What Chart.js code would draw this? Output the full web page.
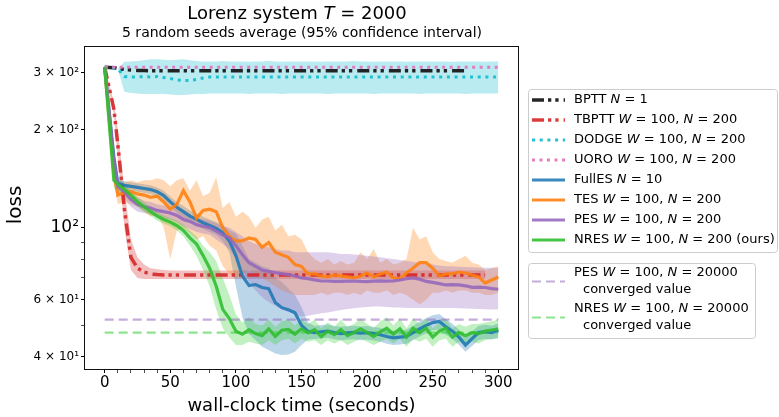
<!DOCTYPE html>
<html>
<head>
<meta charset="utf-8">
<script src="https://cdn.jsdelivr.net/npm/chart.js@4.4.1/dist/chart.umd.min.js"></script>
<style>
  html, body { margin: 0; padding: 0; background: #fff; }
</style>
</head>
<body>
<canvas id="lossChart" width="779" height="417"></canvas>
<script>
const FONT = '"DejaVu Sans", sans-serif';

// wall-clock time (seconds) for every sample
const timeSec = [0,7,10,15,20,25,30,35,40,45,
  50,55,60,65,70,75,80,85,90,95,
  100,105,110,115,120,125,130,135,140,145,
  150,155,160,165,170,175,180,185,190,195,
  200,205,210,215,220,225,230,235,240,245,
  250,255,260,265,270,275,280,285,290,295,
  300];

const bpttLoss = [312,311,309,307,306,305,304.5,304,304,304,
  304,304,304,304,304,304,304,304,304,304,
  304,304,304,304,304,304,304,304,304,304,
  304,304,304,304,304,304,304,304,304,304,
  304,304,304,304,304,304,304,304,304,304,
  304,304,304,304,304,304,null,null,null,null,
  null];

const tbpttLoss = [312,232,180,114,81,75,73,72,71.7,71.5,
  71.5,71.5,71.5,71.5,71.5,71.5,71.5,71.5,71.5,71.5,
  71.5,71.5,71.5,71.5,71.5,71.5,71.5,71.5,71.5,71.5,
  71.5,71.5,71.5,71.5,71.5,71.5,71.5,71.5,71.5,71.5,
  71.5,71.5,71.5,71.5,71.5,71.5,71.5,71.5,71.5,71.5,
  71.5,71.5,71.5,71.5,71.5,71.5,71.5,71.5,71.5,null,
  null];
const tbpttLo = [312,222,165,100,74,70,69.5,69.5,69.5,69.5,
  69.5,69.5,69.5,69.5,69.5,69.5,69.5,69.5,69.5,69.5,
  69.5,69.5,69.5,69.5,69.5,69.5,69.5,69.5,69.5,69.5,
  69.5,69.5,69.5,69.5,69.5,69.5,69.5,69.5,69.5,69.5,
  69.5,69.5,69.5,69.5,69.5,69.5,69.5,69.5,69.5,69.5,
  69.5,69.5,69.5,69.5,69.5,69.5,69.5,69.5,69.5,null,
  null];
const tbpttHi = [312,244,200,132,92,81,77,75,74.5,74,
  73.8,73.8,73.8,73.8,73.8,73.8,73.8,73.8,73.8,73.8,
  73.8,73.8,73.8,73.8,73.8,73.8,73.8,73.8,73.8,73.8,
  73.8,73.8,73.8,73.8,73.8,73.8,73.8,73.8,73.8,73.8,
  73.8,73.8,73.8,73.8,73.8,73.8,73.8,73.8,73.8,73.8,
  73.8,73.8,73.8,73.8,73.8,73.8,73.8,73.8,73.8,null,
  null];

const dodgeLoss = [312,310,308,292,291,291,292,291,292,290,
  288,285,284,284,286,289,291,291,291,291,
  291,291,291,291,291,291,291,291,291,291,
  291,291,291,291,291,291,291,291,291,291,
  291,291,291,291,291,291,291,291,291,291,
  291,291,291,291,291,291,291,291,291,291,
  291];
const dodgeLo = [312,310,308,262,260,259,258,258,258,258,
  257,256,256,257,258,258,259,259,259,259,
  259,259,258,259,259,259,259,258,259,259,
  259,259,259,259,258,259,259,259,259,259,
  259,258,259,259,259,259,259,259,258,259,
  259,259,259,259,259,258,259,259,259,259,
  259];
const dodgeHi = [312,310,308,324,325,326,328,330,330,329,
  328,329,330,328,326,325,325,325,326,325,
  325,325,324,325,325,326,325,324,325,325,
  325,325,325,324,325,325,325,325,326,325,
  325,324,325,325,325,325,324,325,325,325,
  325,325,325,324,325,325,325,325,324,325,
  325];

const uoroLoss = [312,312,312,312,312,312,312,312,312,312,
  312,312,312,312,312,312,312,312,312,312,
  312,312,312,312,312,312,312,312,312,312,
  312,312,312,312,312,312,312,312,312,312,
  312,312,312,312,312,312,312,312,312,312,
  312,312,312,312,312,312,312,312,312,312,
  312];

const fullesLoss = [312,165,137,135,134,133,132,131,129,125.5,
  120,115.5,112,108.5,106,103.5,101.5,99.5,96.5,91,
  82,71,66.3,66.8,65.4,64.9,58.8,56.7,55.9,54.7,
  50,47.9,47.5,47.8,48,47.5,47.2,47.4,47.6,47.3,
  47.5,47.2,46.8,46.2,45.8,46,46.2,47.5,48.8,50,
  51,51.4,49.5,48,46,43.5,45.5,47.5,47.8,47.5,
  48.3];
const fullesLo = [312,158,133,131,130,129,128,127,125,121,
  116,111,107.5,104,101.5,99,97,95,91,84,
  66,53,47,45,43,42,41,40.5,40.7,41.5,
  43.5,45.2,45.4,45.6,45.8,45.3,45,45.2,45.3,45,
  45.2,44.9,44.5,43.9,43.5,43.7,43.9,45,46.2,47.3,
  48.3,48.6,46.8,45.4,43.6,41.5,43.2,45.1,45.4,45.2,
  45.9];
const fullesHi = [312,172,141,139,138,137,136,135,133,130,
  124.5,120,116.5,113,110.5,108,106,104,102,98,
  96,88,80,78,76,75,70,68,65,62,
  57,51,49.8,50.1,50.3,49.8,49.5,49.7,49.9,49.6,
  49.8,49.5,49.1,48.5,48.1,48.3,48.5,49.8,51.4,52.7,
  53.7,54.2,52.2,50.6,48.5,45.8,47.9,49.9,50.2,49.9,
  50.7];

const tesLoss = [312,148,126,128,129,127,126,124,125,120,
  114,118,130,120,107,113,114,112,100,94,
  91,91,93,92,87,90,84,82.5,81,77,
  76,72,72,71,70.5,71.5,71,70.5,70,71,
  72.5,70.5,72,73,70,69.5,72.5,75,78,78,
  75,71,72,72,73,72.5,71.5,70.5,67.5,69,
  70.5];
const tesLo = [312,138,118,120,118,116,112,108,110,100,
  80,98,100,96,92,94,88,85,76,72,
  70,72,74,72,70,68,66,64,63,62,
  62,62,62,63,62,63,63,62,63,62,
  64,63,63,64,62,63,62,60,58,60,
  63,63,64,63,64,64,63,63,62,62,
  63];
const tesHi = [312,160,134,138,140,138,140,140,142,140,
  134,140,142,130,140,125,128,143,115,120,
  108,112,108,100,106,108,98,102,94,95,
  92,84,80,78,80,77,79,77,78,84,
  80,86,78,80,77,78,80,100,92,94,
  84,80,79,78,80,82,78,77,74,75,
  76];

const pesLoss = [312,160,134,129,122,118,116,115,113,112,
  111,109,106,104.5,102,101,100,97.5,95,93,
  88,82.5,78,76,74,73.3,72.7,72.2,71.7,71,
  70,69.6,69,68.5,68.5,68.3,68.3,68.4,68.5,68.3,
  68.2,68.4,68.6,68.4,68.5,69,69.6,70,69.4,68.3,
  67.8,67.2,66.6,66.8,66.6,66.2,65.5,65.6,65.4,64.9,
  64.6];
const pesLo = [312,152,128,123,116,112,111,110,108,107,
  106,104,101,99,97,96,95,92,89,86,
  80,74,68,64,61,59,57.5,56,55,54,
  53.3,53.5,54,54.5,54.8,55.3,55.8,56.2,56.5,56.8,
  57,57.2,57.2,57,56.8,56.8,56.6,56.6,56.6,56.6,
  56.6,56.6,56.6,56.6,56.5,56.4,56.3,56.2,56.1,56,
  56];
const pesHi = [312,168,140,136,128,124,121,120,118,117,
  116,114,111,110,107,106,105,103,101,100,
  97,94,91,89,88,87,86,85,85,84,
  84,84,84,84,84,83.5,83,83,82.6,82.3,
  82,81.5,81,80.5,80,79.5,79,78.5,78,77.5,
  77,76.5,76,76,75.8,75.6,75.5,75.4,75.3,75.3,
  75.3];

const nresLoss = [312,140,136,131,126,120,116,112,108.5,106,
  104,101.5,98,93,89,82,75,66,56,52.5,
  48,47,48.5,47.2,46.5,48.8,46.2,48.3,48.6,47,
  48.8,47.5,48.5,46.2,48,46.8,48.5,46.5,47.5,48.8,
  47.6,46.2,47.8,49,47,48.8,46,49,47.5,49,
  46,48,49,46,47.5,46.5,47.5,47.2,48,48.4,
  48.8];
const nresLo = [312,132,130,125,121,116,112,109,105,103,
  101,98,94,88,82,74,66,56,49,46,
  43.5,43.5,44.5,44,43.5,45,43.5,45,45.5,44,
  45.5,44.5,45,43.5,45,44,45,43.5,44.5,45.5,
  44.5,43.5,44.5,45.5,44,45.5,43,45.5,44.5,45.5,
  43,45,45.5,43,44.5,43.5,44.5,44,45,45.5,
  45.5];
const nresHi = [312,148,142,136,130,124,120,116,112,109,
  107,105,102,98,94,88,84,79,70,62,
  54,51,53,50.5,50,52,49.5,51.5,52,50,
  52,50.5,52,49,51,49.5,52,49.5,50.5,52.5,
  50.5,49,51.5,53,50,52.5,49,52.5,50.5,52.5,
  49,51,52.5,49,50.5,49.5,50.5,50.5,51,51.5,
  52];

// converged values of the N = 20000 runs
const convergedTime = [0, 300];
const pesConverged = [52.1, 52.1];
const nresConverged = [47.5, 47.5];

// axis ticks
const yTickValues = [40, 50, 60, 70, 80, 90, 100, 200, 300];
const yTickLabels = ['4 × 10¹', '', '6 × 10¹', '', '', '', '10²', '2 × 10²', '3 × 10²'];
const xTickValues = [0,10,20,30,40,50,60,70,80,90,100,110,120,130,140,150,
  160,170,180,190,200,210,220,230,240,250,260,270,280,290,300];
const xTickLabels = ['0','','','','','50','','','','','100','','','','','150',
  '','','','','200','','','','','250','','','','','300'];

const series = [
  { label: 'BPTT $N$ = 1', values: bpttLoss, color: 'rgba(20,20,20,0.92)', width: 3.5, dash: [12, 4, 3.3, 4, 3.3, 5] },
  { label: 'TBPTT $W$ = 100, $N$ = 200', values: tbpttLoss, lo: tbpttLo, hi: tbpttHi, color: 'rgba(214,39,40,0.9)', band: 'rgba(214,39,40,0.3)', width: 3.5, dash: [12, 4, 3.3, 4, 3.3, 5] },
  { label: 'DODGE $W$ = 100, $N$ = 200', values: dodgeLoss, lo: dodgeLo, hi: dodgeHi, color: 'rgba(23,190,207,0.95)', band: 'rgba(23,190,207,0.3)', width: 3, dash: [3, 4.7] },
  { label: 'UORO $W$ = 100, $N$ = 200', values: uoroLoss, color: 'rgba(227,119,194,0.95)', width: 3, dash: [3, 4.5] },
  { label: 'FullES $N$ = 10', values: fullesLoss, lo: fullesLo, hi: fullesHi, color: 'rgba(31,119,180,0.88)', band: 'rgba(31,119,180,0.3)', width: 3.2 },
  { label: 'TES $W$ = 100, $N$ = 200', values: tesLoss, lo: tesLo, hi: tesHi, color: 'rgba(255,127,14,0.88)', band: 'rgba(255,127,14,0.3)', width: 3.2 },
  { label: 'PES $W$ = 100, $N$ = 200', values: pesLoss, lo: pesLo, hi: pesHi, color: 'rgba(148,103,189,0.88)', band: 'rgba(148,103,189,0.3)', width: 3.2 },
  { label: 'NRES $W$ = 100, $N$ = 200 (ours)', values: nresLoss, lo: nresLo, hi: nresHi, color: 'rgba(50,190,50,0.9)', band: 'rgba(50,205,50,0.3)', width: 3.2 }
];

const converged = [
  { label: 'PES $W$ = 100, $N$ = 20000', values: pesConverged, color: 'rgba(148,103,189,0.55)' },
  { label: 'NRES $W$ = 100, $N$ = 20000', values: nresConverged, color: 'rgba(50,205,50,0.55)' }
];

function points(xs, ys) {
  return ys.map((v, i) => ({ x: xs[i], y: v }));
}

const datasets = [];
converged.forEach(c => {
  datasets.push({ data: points(convergedTime, c.values), borderColor: c.color, borderWidth: 2.2, borderDash: [9, 5], pointRadius: 0, fill: false });
});
series.forEach(s => {
  if (s.lo) {
    datasets.push({ data: points(timeSec, s.lo), borderColor: 'transparent', borderWidth: 0, pointRadius: 0, fill: false });
    datasets.push({ data: points(timeSec, s.hi), borderColor: 'transparent', borderWidth: 0, pointRadius: 0, fill: '-1', backgroundColor: s.band });
  }
  datasets.push({ data: points(timeSec, s.values), borderColor: s.color, borderWidth: s.width, borderDash: s.dash || [], borderCapStyle: 'butt', pointRadius: 0, fill: false });
});
datasets.forEach((d, i) => { d.order = datasets.length - i; d.tension = 0; });

function drawRich(ctx, text, x, y, size, align) {
  const parts = text.split('$');
  const fonts = parts.map((p, i) => (i % 2 ? 'italic ' : '') + size + 'px ' + FONT);
  const widths = parts.map((p, i) => { ctx.font = fonts[i]; return ctx.measureText(p).width; });
  const total = widths.reduce((a, b) => a + b, 0);
  let cx = align === 'center' ? x - total / 2 : x;
  ctx.textAlign = 'left';
  ctx.textBaseline = 'middle';
  parts.forEach((p, i) => { ctx.font = fonts[i]; ctx.fillText(p, cx, y); cx += widths[i]; });
}

function legendBox(ctx, x, y, w, h) {
  ctx.save();
  ctx.beginPath();
  ctx.roundRect(x, y, w, h, 3);
  ctx.fillStyle = 'rgba(255,255,255,0.8)';
  ctx.fill();
  ctx.strokeStyle = '#cccccc';
  ctx.lineWidth = 1;
  ctx.stroke();
  ctx.restore();
}

function sampleLine(ctx, x1, x2, y, color, width, dash) {
  ctx.save();
  ctx.beginPath();
  ctx.setLineDash(dash || []);
  ctx.lineCap = 'butt';
  ctx.strokeStyle = color;
  ctx.lineWidth = width;
  ctx.moveTo(x1, y);
  ctx.lineTo(x2, y);
  ctx.stroke();
  ctx.restore();
}

const decorPlugin = {
  id: 'decor',
  afterDatasetsDraw(chart) {
    const ctx = chart.ctx;
    const a = chart.chartArea;
    ctx.save();
    ctx.strokeStyle = '#111';
    ctx.lineWidth = 1;
    ctx.strokeRect(Math.round(a.left) - 0.5, Math.round(a.top) - 0.5, Math.round(a.right - a.left) + 1, Math.round(a.bottom - a.top) + 1);
    ctx.restore();
  },
  afterDraw(chart) {
    const ctx = chart.ctx;
    const a = chart.chartArea;
    ctx.save();
    ctx.fillStyle = '#000';
    drawRich(ctx, 'Lorenz system $T$ = 2000', 297, 14, 18, 'center');
    drawRich(ctx, '5 random seeds average (95% confidence interval)', 302, 33, 14, 'center');
    drawRich(ctx, 'wall-clock time (seconds)', (a.left + a.right) / 2, 406, 18, 'center');
    ctx.save();
    ctx.translate(16, 205);
    ctx.rotate(-Math.PI / 2);
    drawRich(ctx, 'loss', 0, 0, 20, 'center');
    ctx.restore();

    legendBox(ctx, 528.5, 89.5, 249, 163);
    series.forEach((s, i) => {
      const y = 100 + 20 * i;
      sampleLine(ctx, 532, 565, y, s.color, s.width, s.dash);
      ctx.fillStyle = '#000';
      drawRich(ctx, s.label, 574, y, 13, 'left');
    });

    legendBox(ctx, 528.5, 263.5, 227, 75);
    converged.forEach((c, i) => {
      const y = 273 + 36 * i;
      sampleLine(ctx, 532, 565, y + 8.5, c.color, 2.2, [9, 5]);
      ctx.fillStyle = '#000';
      drawRich(ctx, c.label, 574, y, 13, 'left');
      drawRich(ctx, 'converged value', 583, y + 17, 13, 'left');
    });
    ctx.restore();
  }
};

new Chart(document.getElementById('lossChart'), {
  type: 'line',
  data: { datasets: datasets },
  plugins: [decorPlugin],
  options: {
    responsive: false,
    animation: false,
    devicePixelRatio: 1,
    parsing: true,
    layout: { padding: { left: 0, right: 261, top: 47, bottom: 0 } },
    plugins: {
      legend: { display: false },
      tooltip: { enabled: false },
      title: { display: false },
      filler: { drawTime: 'beforeDatasetsDraw' }
    },
    scales: {
      x: {
        type: 'linear',
        min: -15,
        max: 315,
        afterBuildTicks: scale => { scale.ticks = xTickValues.map(v => ({ value: v })); },
        afterFit: scale => { scale.height = 48; },
        border: { display: false },
        grid: {
          drawOnChartArea: false,
          drawTicks: true,
          tickLength: 4,
          tickColor: '#000',
          tickWidth: ctx => (ctx.tick && ctx.tick.value % 50 === 0 ? 1 : 0.7)
        },
        ticks: {
          autoSkip: false,
          maxRotation: 0,
          padding: 1,
          color: '#000',
          font: { family: FONT, size: 15 },
          callback: value => {
            const i = xTickValues.indexOf(value);
            return i >= 0 ? xTickLabels[i] : '';
          }
        }
      },
      y: {
        type: 'logarithmic',
        min: 36.7,
        max: 360,
        afterBuildTicks: scale => { scale.ticks = yTickValues.map(v => ({ value: v })); },
        afterFit: scale => { scale.width = 85; },
        border: { display: false },
        grid: {
          drawOnChartArea: false,
          drawTicks: true,
          tickLength: 4,
          tickColor: '#000',
          tickWidth: ctx => (ctx.tick && yTickLabels[yTickValues.indexOf(ctx.tick.value)] ? 1 : 0.7)
        },
        ticks: {
          autoSkip: false,
          padding: 2,
          color: '#000',
          font: ctx => ({ family: FONT, size: ctx.tick && ctx.tick.value === 100 ? 17 : 12 }),
          callback: value => {
            const i = yTickValues.indexOf(value);
            return i >= 0 ? yTickLabels[i] : '';
          }
        }
      }
    }
  }
});
</script>
</body>
</html>
